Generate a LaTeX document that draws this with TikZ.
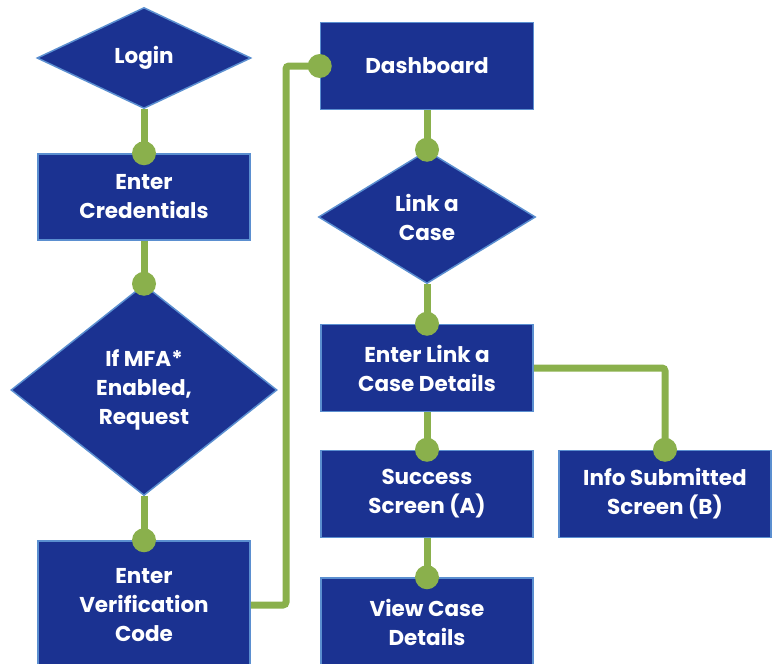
\documentclass[tikz,border=0pt]{standalone}
\usepackage{fontspec}
\setmainfont{Poppins}
\usetikzlibrary{shapes.geometric}
\definecolor{navy}{HTML}{1B3291}
\definecolor{edgeblue}{HTML}{5B8FD0}
\definecolor{leaf}{HTML}{8AB04C}
\tikzset{
  box/.style={rectangle, fill=navy, draw=edgeblue, line width=1.5pt, text=white,
    font=\fontsize{21.5}{29}\selectfont\bfseries, align=center, inner sep=0pt},
  dia/.style={diamond, aspect=1, fill=navy, draw=edgeblue, line width=1.5pt, text=white,
    font=\fontsize{21.5}{29}\selectfont\bfseries, align=center, inner sep=0pt},
  conn/.style={draw=leaf, line width=7pt, rounded corners=3pt},
  dot/.style={fill=leaf}
}
\begin{document}
\begin{tikzpicture}[x=1pt,y=-1pt]
\useasboundingbox (0,0) rectangle (780,664);
% left column
\node[dia, minimum width=214pt, minimum height=101pt] (login) at (144,58) {Login};
\node[box, minimum width=212pt, minimum height=86pt] (cred) at (144,197) {Enter\\Credentials};
\node[dia, minimum width=266pt, minimum height=211pt] (mfa) at (144,390) {If MFA*\\Enabled,\\Request};
\node[box, minimum width=212pt, minimum height=128pt] (ver) at (144,605) {Enter\\Verification\\Code};
% right columns
\node[box, minimum width=213pt, minimum height=87pt] (dash) at (427,66) {Dashboard};
\node[dia, minimum width=217pt, minimum height=133pt] (link) at (427,217) {Link a\\Case};
\node[box, minimum width=212pt, minimum height=87pt] (det) at (427,368) {Enter Link a\\Case Details};
\node[box, minimum width=212pt, minimum height=87pt] (succ) at (427,494) {Success\\Screen (A)};
\node[box, minimum width=212pt, minimum height=88pt] (view) at (427,622) {View Case\\Details};
\node[box, minimum width=212pt, minimum height=87pt] (info) at (665,494) {Info Submitted\\Screen (B)};
% connectors
\draw[conn] (login.south) -- (cred.north);
\fill[dot] (cred.north) circle (12);
\draw[conn] (cred.south) -- (mfa.north);
\fill[dot] (mfa.north) circle (12);
\draw[conn] (mfa.south) -- (ver.north);
\fill[dot] (ver.north) circle (12);
\draw[conn] (ver.east) -- (286,605) -- (286,66) -- (dash.west);
\fill[dot] (dash.west) circle (12);
\draw[conn] (dash.south) -- (link.north);
\fill[dot] (link.north) circle (12);
\draw[conn] (link.south) -- (det.north);
\fill[dot] (det.north) circle (12);
\draw[conn] (det.south) -- (succ.north);
\fill[dot] (succ.north) circle (12);
\draw[conn] (succ.south) -- (view.north);
\fill[dot] (view.north) circle (12);
\draw[conn] (det.east) -- (665,368) -- (info.north);
\fill[dot] (info.north) circle (12);
\end{tikzpicture}
\end{document}
